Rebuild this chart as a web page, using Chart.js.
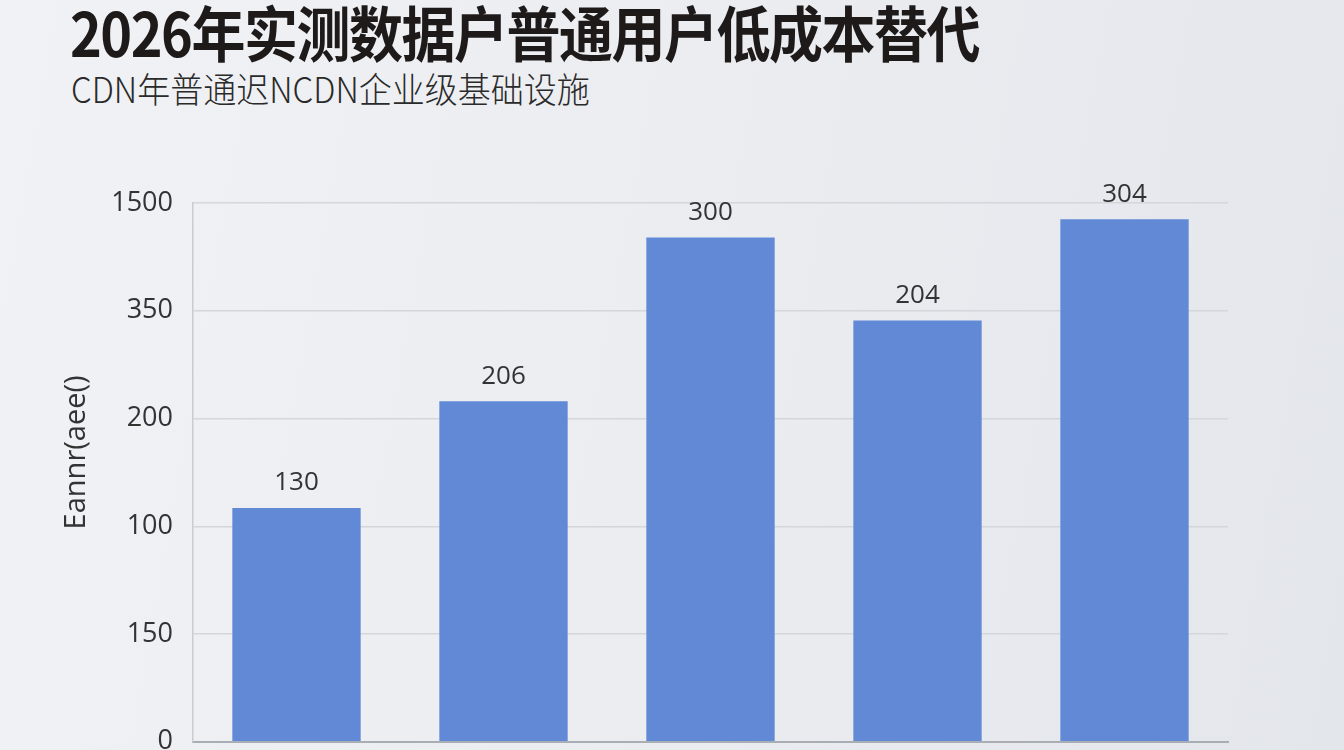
<!DOCTYPE html>
<html>
<head>
<meta charset="utf-8">
<script src="https://cdn.jsdelivr.net/npm/chart.js@4.4.1/dist/chart.umd.min.js"></script>
<style>
  html, body { margin: 0; padding: 0; width: 1344px; height: 750px; overflow: hidden; }
  body { background: linear-gradient(100deg, #f1f2f5 0%, #eaecf0 55%, #e3e6eb 100%); position: relative; font-family: "Noto Sans CJK SC", sans-serif; }
  #title { position: absolute; left: 70px; top: -5px; font-size: 54px; font-weight: 700; color: #1e1a1a; letter-spacing: -1.5px; white-space: nowrap; line-height: 1.2; transform: scaleY(1.12); transform-origin: 0 0; }
  #subtitle { position: absolute; left: 71px; top: 67px; font-size: 33px; font-weight: 300; color: #2a2a2a; white-space: nowrap; line-height: 1.2; transform: scaleY(1.08); transform-origin: 0 0; }
  #wrap { position: absolute; left: 0; top: 0; width: 1344px; height: 778px; }
</style>
</head>
<body>
<div id="title">2026年实测数据户普通用户低成本替代</div>
<div id="subtitle">CDN年普通迟NCDN企业级基础设施</div>
<div id="wrap"><canvas id="c" width="1344" height="778"></canvas></div>
<script>
// ---- data ----
const categories = ['1', '2', '3', '4', '5'];
const barHeights = [2.17, 3.16, 4.68, 3.91, 4.85];   // bar heights in gridline units as drawn
const barLabels = ['130', '206', '300', '204', '304']; // printed value labels
const tickLabels = ['0', '150', '100', '200', '350', '1500'];
const axisTitle = 'Eannr(aee()';

const valueLabelPlugin = {
  id: 'valueLabels',
  afterDatasetsDraw(chart) {
    const ctx = chart.ctx;
    const meta = chart.getDatasetMeta(0);
    ctx.save();
    ctx.font = '26px "Open Sans", sans-serif';
    ctx.fillStyle = '#333333';
    ctx.textAlign = 'center';
    ctx.textBaseline = 'bottom';
    meta.data.forEach((bar, i) => {
      ctx.fillText(barLabels[i], bar.x, bar.y - 12);
    });
    ctx.restore();
  }
};

// y-axis title, drawn rotated a little above the plot's middle as in the reference
const axisTitlePlugin = {
  id: 'axisTitle',
  afterDraw(chart) {
    const ctx = chart.ctx;
    const area = chart.chartArea;
    ctx.save();
    ctx.translate(77, (area.top + area.bottom) / 2 - 20);
    ctx.rotate(-Math.PI / 2);
    ctx.font = '29px "Open Sans", sans-serif';
    ctx.fillStyle = '#333333';
    ctx.textAlign = 'center';
    ctx.textBaseline = 'middle';
    ctx.fillText(axisTitle, 0, 0);
    ctx.restore();
  }
};

new Chart(document.getElementById('c'), {
  type: 'bar',
  data: {
    labels: categories,
    datasets: [{
      data: barHeights,
      backgroundColor: '#6289d6',
      borderWidth: 0,
      barPercentage: 0.62,
      categoryPercentage: 1.0
    }]
  },
  options: {
    responsive: false,
    animation: false,
    devicePixelRatio: 1,
    layout: { padding: { left: 60, right: 116, top: 203, bottom: 9 } },
    plugins: { legend: { display: false }, tooltip: { enabled: false }, title: { display: false } },
    scales: {
      x: {
        ticks: { display: false },
        grid: { display: false },
        border: { display: true, color: '#a9adb4', width: 2 },
        afterFit(scale) { scale.height = 0; }
      },
      y: {
        min: 0, max: 5,
        ticks: {
          stepSize: 1,
          padding: 20,
          color: '#333333',
          font: { family: 'Open Sans', size: 27 },
          callback: (v, i) => tickLabels[i]
        },
        grid: { color: '#d3d6db', lineWidth: 1.5, drawTicks: false },
        border: { display: true, color: '#c8ccd2', width: 1.5 },
        title: { display: false },
        afterFit(scale) { scale.width = 133; }
      }
    }
  },
  plugins: [valueLabelPlugin, axisTitlePlugin]
});
</script>
</body>
</html>
